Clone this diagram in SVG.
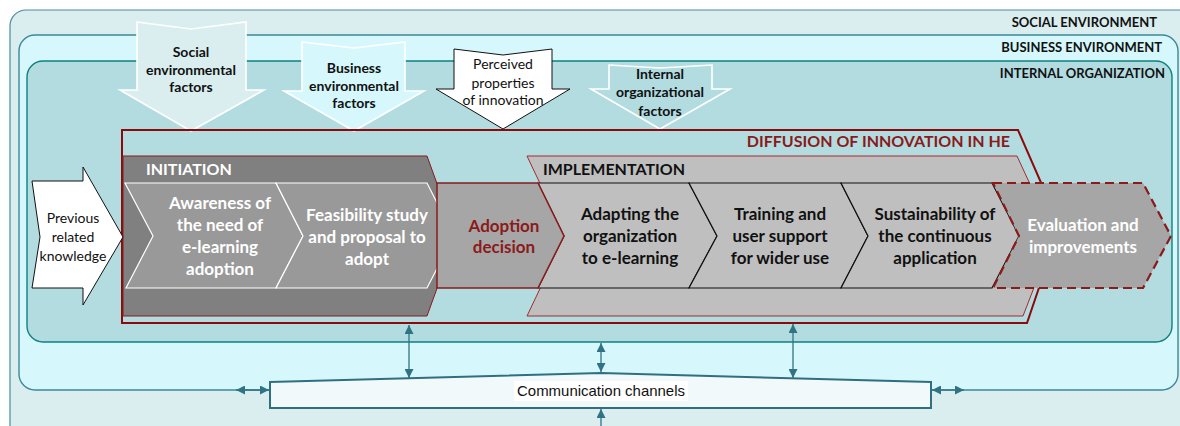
<svg xmlns="http://www.w3.org/2000/svg" width="1180" height="426" viewBox="0 0 1180 426">
  <style>
    text { font-family: Lato, "Open Sans", "Liberation Sans", sans-serif; }
    .env { font-size: 13px; font-weight: bold; fill: #111; text-anchor: end; }
    .fac { font-size: 14px; font-weight: bold; fill: #111; text-anchor: middle; }
    .facr { font-size: 14px; fill: #111; text-anchor: middle; }
    .stage { font-size: 16px; font-weight: bold; }
    .step { font-size: 17px; font-weight: bold; text-anchor: middle; }
    .w { fill: #ffffff; }
    .k { fill: #111111; }
    .r { fill: #8b1a1a; }
    .prev { font-size: 14px; fill: #111; text-anchor: middle; }
    .comm { font-family: "Liberation Sans", Arial, sans-serif; font-size: 15px; fill: #111; text-anchor: middle; }
    .ichev { fill: #999999; stroke: #ffffff; stroke-width: 1.2; }
    .mchev { fill: #bfbfbf; stroke: #111111; stroke-width: 1.2; }
    .link { stroke: #2f7384; stroke-width: 1.3; fill: none; marker-start: url(#ah); marker-end: url(#ah); }
  </style>
  <defs>
    <marker id="ah" viewBox="0 0 10 10" refX="10" refY="5" markerWidth="9" markerHeight="9" markerUnits="userSpaceOnUse" orient="auto-start-reverse">
      <path d="M0,0 L10,5 L0,10 z" fill="#2f7384"/>
    </marker>
  </defs>

  <!-- nested environments -->
  <g id="social-environment">
    <rect x="10" y="10" width="1190" height="440" rx="16" fill="#daeef0" stroke="#4a8c9a" stroke-width="1.2"/>
    <text class="env" x="1157" y="27">SOCIAL ENVIRONMENT</text>
  </g>
  <g id="business-environment">
    <rect x="19" y="35" width="1159" height="355" rx="16" fill="#d6f8fc" stroke="#3d8896" stroke-width="1.4"/>
    <text class="env" x="1162" y="52">BUSINESS ENVIRONMENT</text>
  </g>
  <g id="internal-organization">
    <rect x="27" y="61" width="1145" height="281" rx="16" fill="#b3dce1" stroke="#0e8080" stroke-width="1.4"/>
    <text class="env" x="1165" y="78">INTERNAL ORGANIZATION</text>
  </g>

  <!-- influencing factors -->
  <g id="social-factors">
    <polygon points="137,22 191,29 246,22 246,90 264,90 191,131 120,90 137,90" fill="#daeef0" stroke="#ffffff" stroke-width="1.6"/>
    <text class="fac" x="191" y="57">Social</text>
    <text class="fac" x="191" y="75">environmental</text>
    <text class="fac" x="191" y="92">factors</text>
  </g>
  <g id="business-factors">
    <polygon points="302,42 354,48 405,42 405,91 424,91 354,131 284,91 302,91" fill="#d6f8fc" stroke="#ffffff" stroke-width="1.6"/>
    <text class="fac" x="354" y="73">Business</text>
    <text class="fac" x="354" y="91">environmental</text>
    <text class="fac" x="354" y="108">factors</text>
  </g>
  <g id="perceived-properties">
    <polygon points="454,49 503,55 552,49 552,89 570,89 503,129 436,89 454,89" fill="#ffffff" stroke="#111111" stroke-width="1"/>
    <text class="facr" x="503" y="69">Perceived</text>
    <text class="facr" x="503" y="88">properties</text>
    <text class="facr" x="503" y="105">of innovation</text>
  </g>
  <g id="internal-factors">
    <polygon points="609,65 660,68 712,65 712,89 730,89 660,129 591,89 609,89" fill="#b3dce1" stroke="#ffffff" stroke-width="1.6"/>
    <text class="fac" x="660" y="79">Internal</text>
    <text class="fac" x="660" y="97">organizational</text>
    <text class="fac" x="660" y="116">factors</text>
  </g>

  <!-- diffusion process frame -->
  <g id="diffusion-frame">
    <polygon points="122,130 1018,130 1060,226 1027,323 122,323" fill="none" stroke="#8b0a0a" stroke-width="2"/>
    <text class="stage r" x="1010" y="147" text-anchor="end">DIFFUSION OF INNOVATION IN HE</text>
  </g>

  <!-- initiation stage -->
  <g id="initiation">
    <polygon points="123,156 427,156 456,236 427,316 123,316" fill="#808080" stroke="#8b1a1a" stroke-width="1"/>
    <text class="stage w" x="146" y="175">INITIATION</text>
  </g>
  <g id="awareness">
    <polygon class="ichev" points="125,183 276,183 303,236 276,288 126,288 153,236"/>
    <text class="step w" x="220" y="209">Awareness of</text>
    <text class="step w" x="220" y="231">the need of</text>
    <text class="step w" x="220" y="253">e-learning</text>
    <text class="step w" x="220" y="275">adoption</text>
  </g>
  <g id="feasibility">
    <polygon class="ichev" points="276,183 427,183 454,236 427,288 276,288 303,236"/>
    <text class="step w" x="367" y="221">Feasibility study</text>
    <text class="step w" x="367" y="243">and proposal to</text>
    <text class="step w" x="367" y="265">adopt</text>
  </g>

  <!-- implementation stage -->
  <g id="implementation">
    <polygon points="527,156 1017,156 1054,236 1023,316 527,316 565,236" fill="#bfbfbf" stroke="#a52a2a" stroke-width="1"/>
    <text class="stage k" x="543" y="175">IMPLEMENTATION</text>
  </g>
  <g id="adapting">
    <polygon class="mchev" points="538,183 689,183 717,236 689,288 538,288 564,236"/>
    <text class="step k" x="630" y="220">Adapting the</text>
    <text class="step k" x="630" y="242">organization</text>
    <text class="step k" x="630" y="264">to e-learning</text>
  </g>
  <g id="training">
    <polygon class="mchev" points="689,183 841,183 868,236 841,288 689,288 717,236"/>
    <text class="step k" x="780" y="220">Training and</text>
    <text class="step k" x="780" y="242">user support</text>
    <text class="step k" x="780" y="264">for wider use</text>
  </g>
  <g id="sustainability">
    <polygon class="mchev" points="841,183 992,183 1019,236 992,288 841,288 868,236"/>
    <text class="step k" x="935" y="220">Sustainability of</text>
    <text class="step k" x="935" y="242">the continuous</text>
    <text class="step k" x="935" y="264">application</text>
  </g>
  <g id="adoption-decision">
    <polygon points="437,183 538,183 564,236 538,288 437,288" fill="#a6a6a6" stroke="#8b1a1a" stroke-width="1.5"/>
    <text class="step r" x="504" y="232">Adoption</text>
    <text class="step r" x="504" y="253">decision</text>
  </g>
  <g id="evaluation">
    <polygon points="993,183 1143,183 1171,236 1143,288 993,288 1019,236" fill="#a6a6a6" stroke="#8b1a1a" stroke-width="2.2" stroke-dasharray="9,5"/>
    <text class="step w" x="1083" y="231">Evaluation and</text>
    <text class="step w" x="1083" y="253">improvements</text>
  </g>

  <!-- prior knowledge input -->
  <g id="previous-knowledge">
    <polygon points="32,181 83,181 83,167 123,237 83,305 83,288 32,288 40,237" fill="#ffffff" stroke="#111111" stroke-width="1"/>
    <text class="prev" x="73" y="223">Previous</text>
    <text class="prev" x="73" y="242">related</text>
    <text class="prev" x="73" y="261">knowledge</text>
  </g>

  <!-- communication links -->
  <g id="connectors">
    <line class="link" x1="409" y1="325" x2="409" y2="378"/>
    <line class="link" x1="793" y1="324" x2="793" y2="378"/>
    <line class="link" x1="601" y1="343" x2="601" y2="372"/>
    <line class="link" x1="601" y1="409" x2="601" y2="440"/>
    <line class="link" x1="236" y1="390" x2="269" y2="390"/>
    <line class="link" x1="932" y1="390" x2="964" y2="390"/>
  </g>

  <g id="communication-channels">
    <polygon points="270,382 601,373 931,382 931,408 270,408" fill="#f1f9fb" stroke="#2f6f80" stroke-width="2"/>
    <rect x="514" y="381" width="174" height="20" fill="#ffffff"/>
    <text class="comm" x="601" y="396" textLength="168" lengthAdjust="spacingAndGlyphs">Communication channels</text>
  </g>
</svg>
